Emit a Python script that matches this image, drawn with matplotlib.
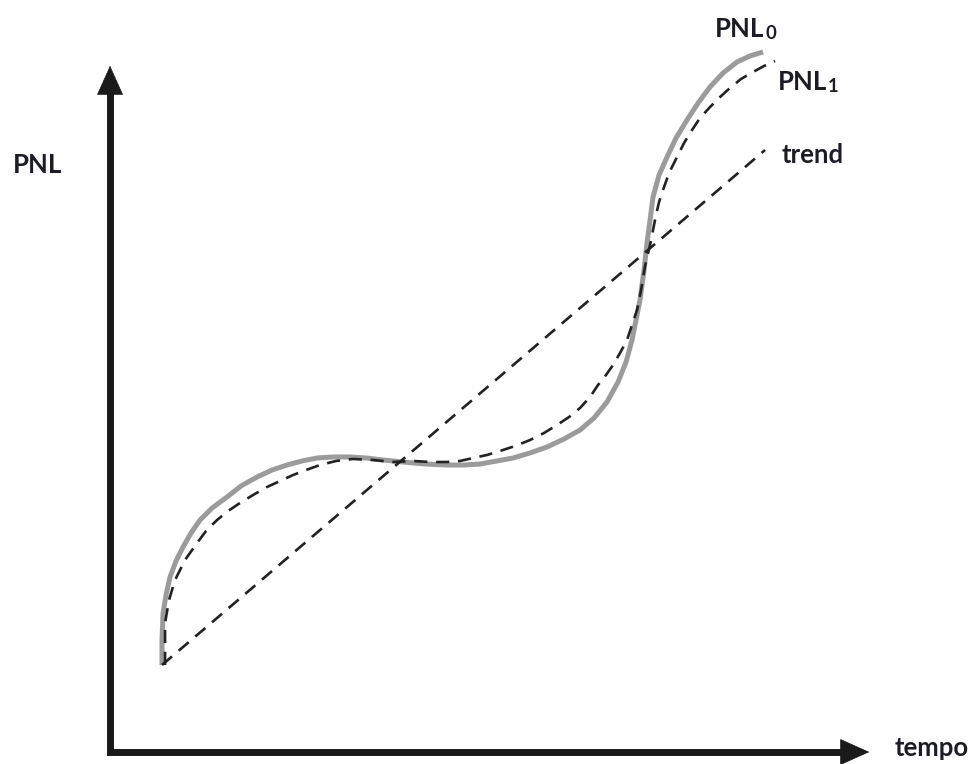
import matplotlib
matplotlib.use('Agg')
import matplotlib.pyplot as plt

# values (time and PNL in units of the axis length, 0..100)
pnl0_t = [6.82, 6.82, 6.96, 7.35, 7.87, 8.66, 9.58, 10.63, 11.81, 13.39, 15.35, 17.19,
          19.29, 21.26, 23.23, 25.20, 27.17, 29.27, 31.50, 33.60, 35.83, 38.45, 41.34,
          44.23, 46.46, 48.56, 50.79, 52.89, 55.12, 57.35, 59.58, 61.68, 63.52, 65.22,
          66.67, 67.72, 68.50, 69.03, 69.55, 70.08, 70.47, 70.87, 71.26, 72.05, 73.10,
          74.28, 75.72, 77.17, 78.74, 80.45, 82.28, 83.99, 85.70]
pnl0_v = [12.63, 16.26, 20.17, 22.79, 25.40, 27.72, 29.75, 31.79, 33.67, 35.41, 37.01, 38.61,
          39.91, 40.93, 41.65, 42.24, 42.67, 42.82, 42.82, 42.67, 42.38, 42.09, 41.80,
          41.65, 41.65, 41.80, 42.24, 42.67, 43.40, 44.27, 45.43, 46.73, 48.48, 50.80,
          53.70, 56.60, 59.80, 62.70, 65.60, 69.96, 73.87, 77.21, 80.55, 83.74, 86.36,
          89.11, 91.73, 94.19, 96.52, 98.55, 100.15, 101.02, 101.60]

pnl1_t = [7.22, 7.22, 7.22, 7.74, 8.53, 9.84, 11.42, 12.60, 14.04, 15.49, 17.06, 18.77,
          20.60, 22.31, 24.02, 25.72, 27.56, 29.66, 31.89, 34.51, 37.14, 39.76, 41.99,
          44.23, 45.93, 47.64, 49.48, 51.18, 53.15, 55.12, 56.96, 58.66, 60.24, 61.68,
          62.99, 64.04, 65.09, 66.01, 66.93, 67.85, 68.50, 69.16, 69.69, 70.21, 70.87,
          71.26, 71.65, 72.05, 72.57, 73.36, 74.41, 75.33, 76.38, 77.43, 78.74, 80.05,
          81.36, 82.81, 84.38, 85.83, 87.27]
pnl1_v = [12.63, 15.53, 18.72, 22.06, 24.96, 27.87, 30.33, 32.08, 33.67, 34.98, 36.14, 37.30,
          38.46, 39.33, 40.20, 40.93, 41.65, 42.24, 42.53, 42.38, 42.09, 42.24, 42.09,
          42.09, 42.24, 42.67, 43.11, 43.69, 44.41, 45.28, 46.30, 47.46, 48.62, 49.93,
          51.52, 53.27, 54.72, 56.17, 57.91, 59.80, 61.97, 64.15, 67.05, 70.54, 73.58,
          75.76, 77.94, 79.83, 81.57, 84.03, 86.36, 88.39, 90.28, 92.02, 93.61, 95.06,
          96.37, 97.68, 98.69, 99.56, 100.29]

trend_t = [6.82, 85.96]
trend_v = [12.63, 87.37]

label_font = ['Lato', 'DejaVu Sans']
txt_color = '#1c1c24'
axis_color = '#1a1a1a'

fig = plt.figure(figsize=(9.73, 7.64), dpi=100)
ax = fig.add_axes([0, 0, 1, 1])
ax.set_xlim(-14.44, 113.25)
ax.set_ylim(-1.74, 109.14)
ax.axis('off')

# axes with arrows
ax.plot([0, 0, 96.2], [95.8, 0, 0], color=axis_color, lw=5, solid_joinstyle='miter',
        solid_capstyle='butt')
ax.annotate('', xy=(0, 100), xytext=(0, 95.5),
            arrowprops=dict(arrowstyle='-|>,head_length=1.0,head_width=0.45',
                            mutation_scale=20, color=axis_color, lw=0.5))
ax.annotate('', xy=(100, 0), xytext=(95.9, 0),
            arrowprops=dict(arrowstyle='-|>,head_length=1.0,head_width=0.45',
                            mutation_scale=20, color=axis_color, lw=0.5))

# curves
ax.plot(pnl0_t, pnl0_v, color='#9b9b9b', lw=3.6, solid_capstyle='butt',
        solid_joinstyle='round')
ax.plot(pnl1_t, pnl1_v, color='#222222', lw=1.9, dashes=(5, 3.3))
ax.plot(trend_t, trend_v, color='#222222', lw=1.9, dashes=(5, 3.3))

# labels
fs = 18.5
sub_fs = fs * 0.72
ax.text(-12.73, 85.2, 'PNL', fontsize=fs, fontweight='bold', family=label_font,
        color=txt_color, ha='left', va='center')
t0 = ax.text(79.4, 103.8, 'PNL', fontsize=fs, fontweight='bold', family=label_font,
             color=txt_color, ha='left', va='baseline')
ax.annotate('0', xy=(1, 0), xycoords=t0, xytext=(0.5, -1), textcoords='offset points',
            fontsize=sub_fs, fontweight='bold', family=label_font, color=txt_color,
            ha='left', va='bottom')
t1 = ax.text(87.66, 96.1, 'PNL', fontsize=fs, fontweight='bold', family=label_font,
             color=txt_color, ha='left', va='baseline')
ax.annotate('1', xy=(1, 0), xycoords=t1, xytext=(0.5, -1), textcoords='offset points',
            fontsize=sub_fs, fontweight='bold', family=label_font, color=txt_color,
            ha='left', va='bottom')
ax.text(88.19, 85.5, 'trend', fontsize=fs, fontweight='bold', family=label_font,
        color=txt_color, ha='left', va='baseline')
ax.text(103.0, -0.58, 'tempo', fontsize=fs, fontweight='bold', family=label_font,
        color=txt_color, ha='left', va='baseline')

fig.savefig('out.png', dpi=100)
